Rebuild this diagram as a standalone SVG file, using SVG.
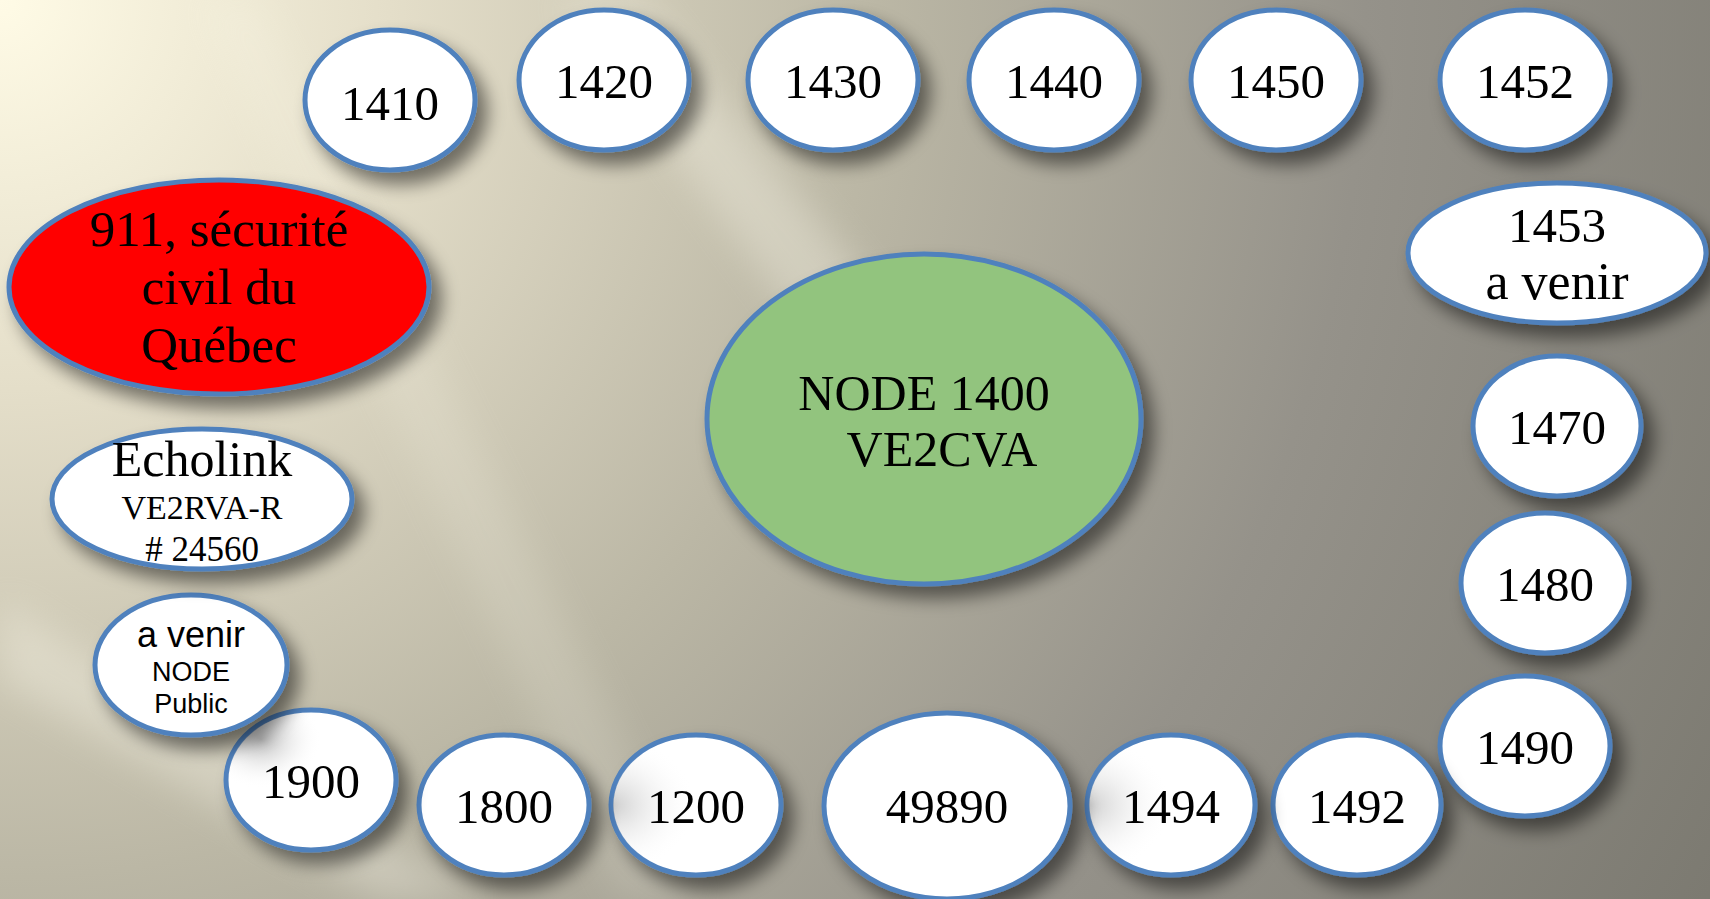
<svg xmlns="http://www.w3.org/2000/svg" width="1710" height="899" viewBox="0 0 1710 899">
<defs>
<radialGradient id="bg" cx="0" cy="0" r="1950" gradientUnits="userSpaceOnUse">
<stop offset="0" stop-color="#fffbe6"/>
<stop offset="0.2" stop-color="#e4dec9"/>
<stop offset="0.45" stop-color="#bbb7a5"/>
<stop offset="0.7" stop-color="#95928a"/>
<stop offset="1" stop-color="#7b7970"/>
</radialGradient>
<filter id="blur" x="-50%" y="-50%" width="200%" height="200%"><feGaussianBlur stdDeviation="18"/></filter>
<filter id="sh" x="-30%" y="-30%" width="160%" height="160%">
<feGaussianBlur in="SourceAlpha" stdDeviation="9"/>
<feOffset dx="10" dy="12" result="b"/>
<feComponentTransfer><feFuncA type="linear" slope="0.5"/></feComponentTransfer>
<feMerge><feMergeNode/><feMergeNode in="SourceGraphic"/></feMerge>
</filter>
<radialGradient id="inset" cx="0.2" cy="0.2" r="0.6">
<stop offset="0" stop-color="#9a9a9a" stop-opacity="0.7"/>
<stop offset="0.6" stop-color="#ffffff" stop-opacity="0"/>
</radialGradient>
<radialGradient id="insetL" cx="0" cy="0.5" r="0.5">
<stop offset="0" stop-color="#a0a0a0" stop-opacity="0.5"/>
<stop offset="1" stop-color="#ffffff" stop-opacity="0"/>
</radialGradient>
</defs>
<style>
.n{fill:#ffffff;stroke:#4f81bd;stroke-width:5;filter:url(#sh)}
.t{font-family:"Liberation Serif","Times New Roman",serif;fill:#000;text-anchor:middle}
.s{font-family:"Liberation Sans",Arial,sans-serif;fill:#000;text-anchor:middle}
.num{font-size:49px}
</style>
<rect width="1710" height="899" fill="url(#bg)"/>
<g filter="url(#blur)" fill="#fffdf0" opacity="0.3">
<polygon points="560,0 640,0 980,420 900,460"/>
<polygon points="0,600 0,680 380,899 480,899"/>
<polygon points="200,0 260,0 700,899 620,899" opacity="0.5"/>
</g>
<g id="connectors"/>
<g id="node-1400">
<ellipse cx="924" cy="419" rx="217" ry="165" fill="#92c47e" stroke="#4f81bd" stroke-width="5" filter="url(#sh)"/>
<text class="t" x="924" y="410" font-size="50">NODE 1400</text>
<text class="t" x="942" y="466" font-size="50">VE2CVA</text>
</g>
<g id="node-911">
<ellipse cx="219" cy="287" rx="210" ry="107" fill="#ff0000" stroke="#4f81bd" stroke-width="5" filter="url(#sh)"/>
<text class="t" x="219" y="246" font-size="51">911, sécurité</text>
<text class="t" x="219" y="304" font-size="51">civil du</text>
<text class="t" x="219" y="362" font-size="51">Québec</text>
</g>
<g id="node-1410"><ellipse class="n" cx="390" cy="100" rx="85" ry="70"/><text class="t num" x="390" y="120">1410</text></g>
<g id="node-1420"><ellipse class="n" cx="604" cy="80" rx="85" ry="70"/><text class="t num" x="604" y="98">1420</text></g>
<g id="node-1430"><ellipse class="n" cx="833" cy="80" rx="85" ry="70"/><text class="t num" x="833" y="98">1430</text></g>
<g id="node-1440"><ellipse class="n" cx="1054" cy="80" rx="85" ry="70"/><text class="t num" x="1054" y="98">1440</text></g>
<g id="node-1450"><ellipse class="n" cx="1276" cy="80" rx="85" ry="70"/><text class="t num" x="1276" y="98">1450</text></g>
<g id="node-1452"><ellipse class="n" cx="1525" cy="80" rx="85" ry="70"/><text class="t num" x="1525" y="98">1452</text></g>
<g id="node-1453"><ellipse class="n" cx="1557" cy="253" rx="149" ry="70"/><text class="t num" x="1557" y="242">1453</text><text class="t" x="1557" y="299" font-size="52">a venir</text></g>
<g id="node-1470"><ellipse class="n" cx="1557" cy="426" rx="84" ry="70"/><text class="t num" x="1557" y="444">1470</text></g>
<g id="node-1480"><ellipse class="n" cx="1545" cy="583" rx="84" ry="70"/><text class="t num" x="1545" y="601">1480</text></g>
<g id="node-1490"><ellipse class="n" cx="1525" cy="746" rx="85" ry="70"/><text class="t num" x="1525" y="764">1490</text></g>
<g id="node-1492"><ellipse class="n" cx="1357" cy="805" rx="84" ry="70"/><text class="t num" x="1357" y="823">1492</text></g>
<g id="node-1494"><ellipse class="n" cx="1171" cy="805" rx="84" ry="70"/><ellipse cx="1171" cy="805" rx="82" ry="68" fill="url(#insetL)"/><text class="t num" x="1171" y="823">1494</text></g>
<g id="node-49890"><ellipse class="n" cx="947" cy="806" rx="123" ry="93"/><text class="t num" x="947" y="823">49890</text></g>
<g id="node-1200"><ellipse class="n" cx="696" cy="805" rx="85" ry="70"/><ellipse cx="696" cy="805" rx="83" ry="68" fill="url(#insetL)"/><text class="t num" x="696" y="823">1200</text></g>
<g id="node-1800"><ellipse class="n" cx="504" cy="805" rx="85" ry="70"/><text class="t num" x="504" y="823">1800</text></g>
<g id="node-1900"><ellipse class="n" cx="311" cy="780" rx="85" ry="70"/><ellipse cx="311" cy="780" rx="83" ry="68" fill="url(#inset)"/><text class="t num" x="311" y="798">1900</text></g>
<g id="node-avenir"><ellipse class="n" cx="191" cy="665" rx="96" ry="70"/>
<text class="s" x="191" y="647" font-size="36">a venir</text>
<text class="s" x="191" y="681" font-size="27">NODE</text>
<text class="s" x="191" y="713" font-size="27">Public</text></g>
<g id="node-echolink"><ellipse class="n" cx="202" cy="499" rx="150" ry="70"/>
<text class="t" x="202" y="476" font-size="50">Echolink</text>
<text class="t" x="202" y="519" font-size="34">VE2RVA-R</text>
<text class="t" x="202" y="561" font-size="35"># 24560</text></g>
</svg>
